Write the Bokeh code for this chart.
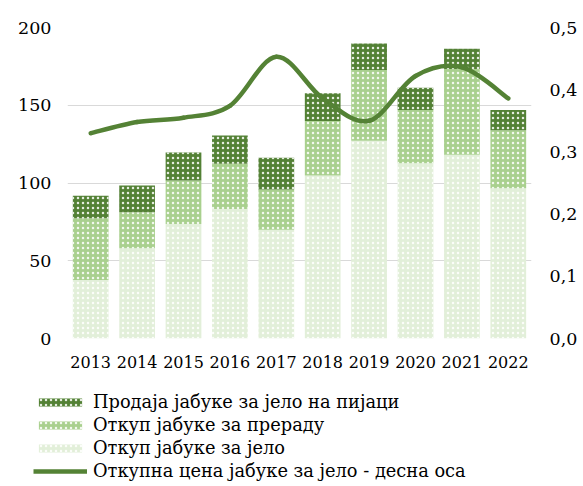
from bokeh.plotting import figure
from bokeh.layouts import column
from bokeh.models import (Range1d, LinearAxis, FixedTicker, CustomJSTickFormatter,
                          Legend, LegendItem, ColumnDataSource)
from bokeh.embed import file_html
from bokeh.resources import INLINE

years = ["2013", "2014", "2015", "2016", "2017", "2018", "2019", "2020", "2021", "2022"]
otkup_jelo = [37.7, 58.1, 73.7, 83.2, 69.9, 104.8, 127.1, 112.7, 118.1, 96.7]
otkup_prerada = [39.7, 23.1, 27.9, 29.1, 25.9, 35.1, 45.6, 34.3, 55.2, 37.3]
pijaca = [14.4, 17.2, 18.0, 18.2, 20.4, 17.8, 17.0, 14.2, 13.0, 13.0]
cena = [0.330, 0.348, 0.355, 0.374, 0.453, 0.386, 0.350, 0.422, 0.436, 0.386]

labels = ["Продаја јабуке за јело на пијаци", "Откуп јабуке за прераду",
          "Откуп јабуке за јело", "Откупна цена јабуке за јело - десна оса"]

FONT = "DejaVu Serif"
GREEN = "#548235"
fills = ["#e2efd9", "#a9d08e", "#538135"]
HATCH = dict(hatch_pattern="dot", hatch_color="white", hatch_alpha=0.85,
             hatch_scale=5, hatch_weight=1.6)
xs = list(range(len(years)))

p = figure(width=583, height=370, output_backend="svg", toolbar_location=None,
           x_range=Range1d(-0.5, 9.5), y_range=Range1d(0, 200),
           min_border_left=67, min_border_right=52, min_border_top=27,
           min_border_bottom=32)
p.outline_line_color = None
p.frame_align = False

src = ColumnDataSource(dict(x=xs, jelo=otkup_jelo, prerada=otkup_prerada, pijaca=pijaca))
rs = p.vbar_stack(["jelo", "prerada", "pijaca"], x="x", width=0.77, source=src,
                  fill_color=fills, line_color=None, **HATCH)

# smooth (Catmull-Rom) rendering of the price line through the data points
p.extra_y_ranges = {"price": Range1d(0, 0.5)}
n = len(cena)
x0, y0, x1, y1, cx0, cy0, cx1, cy1 = [], [], [], [], [], [], [], []
for i in range(n - 1):
    pm = max(i - 1, 0)
    pp = min(i + 2, n - 1)
    x0.append(xs[i]); y0.append(cena[i])
    x1.append(xs[i + 1]); y1.append(cena[i + 1])
    cx0.append(xs[i] + (xs[i + 1] - xs[pm]) / 6)
    cy0.append(cena[i] + (cena[i + 1] - cena[pm]) / 6)
    cx1.append(xs[i + 1] - (xs[pp] - xs[i]) / 6)
    cy1.append(cena[i + 1] - (cena[pp] - cena[i]) / 6)
p.bezier(x0=x0, y0=y0, x1=x1, y1=y1, cx0=cx0, cy0=cy0, cx1=cx1, cy1=cy1,
         line_color=GREEN, line_width=4.5, line_cap="round", y_range_name="price")

p.xgrid.visible = False
p.ygrid.ticker = FixedTicker(ticks=[0, 50, 100, 150, 200])
p.ygrid.grid_line_color = "#d9d9d9"
p.ygrid.grid_line_width = 1

for ax in [p.xaxis[0], p.yaxis[0]]:
    ax.axis_line_color = None
    ax.major_tick_line_color = None
    ax.minor_tick_line_color = None
    ax.major_label_text_font = FONT
    ax.major_label_text_color = "#000000"

p.yaxis[0].ticker = FixedTicker(ticks=[0, 50, 100, 150, 200])
p.yaxis[0].major_label_text_font_size = "17.5px"
p.yaxis[0].major_label_standoff = 10

p.xaxis[0].ticker = FixedTicker(ticks=xs)
p.xaxis[0].major_label_overrides = {i: y for i, y in enumerate(years)}
p.xaxis[0].major_label_text_font_size = "16px"
p.xaxis[0].major_label_standoff = 11

ry = LinearAxis(y_range_name="price", ticker=FixedTicker(ticks=[0, 0.1, 0.2, 0.3, 0.4, 0.5]),
                formatter=CustomJSTickFormatter(code="return tick.toFixed(1).replace('.', ',');"))
ry.axis_line_color = None
ry.major_tick_line_color = None
ry.minor_tick_line_color = None
ry.major_label_text_font = FONT
ry.major_label_text_font_size = "17.5px"
ry.major_label_text_color = "#000000"
ry.major_label_standoff = 12
p.add_layout(ry, "right")

# legend panel: stand-in renderers lie outside its visible range, only their legend swatches show
lg = figure(width=583, height=116, output_backend="svg", toolbar_location=None,
            x_range=Range1d(-20, -19), y_range=Range1d(-20, -19),
            x_axis_location=None, y_axis_location=None,
            min_border_left=12, min_border_right=0, min_border_top=0, min_border_bottom=0)
lg.frame_align = False
lg.grid.visible = False
lg.outline_line_color = None
b_top = lg.vbar(x=xs, top=pijaca, width=0.5, fill_color=fills[2], line_color=None, **HATCH)
b_mid = lg.vbar(x=xs, top=otkup_prerada, width=0.5, fill_color=fills[1], line_color=None, **HATCH)
b_bot = lg.vbar(x=xs, top=otkup_jelo, width=0.5, fill_color=fills[0], line_color=None, **HATCH)
l_r = lg.line(x=xs, y=cena, line_color=GREEN, line_width=4.5)
items = [LegendItem(label=labels[0], renderers=[b_top]),
         LegendItem(label=labels[1], renderers=[b_mid]),
         LegendItem(label=labels[2], renderers=[b_bot]),
         LegendItem(label=labels[3], renderers=[l_r])]
legend = Legend(items=items, location="top_left", orientation="vertical",
                glyph_width=54, glyph_height=10, label_standoff=6, spacing=2,
                padding=0, margin=21, border_line_color=None,
                background_fill_alpha=0,
                label_text_font=FONT, label_text_font_size="17.8px",
                label_text_color="#000000", label_height=20)
lg.add_layout(legend, "center")

open("out.html", "w").write(file_html(column(p, lg, spacing=0), INLINE))
